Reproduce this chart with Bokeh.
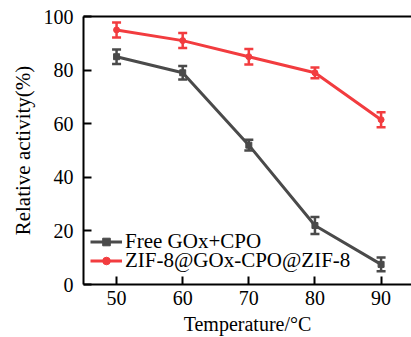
from bokeh.plotting import figure
from bokeh.models import (ColumnDataSource, Whisker, TeeHead, Legend, LegendItem,
                          LinearAxis, FixedTicker, Range1d)
from bokeh.embed import file_html
from bokeh.resources import INLINE

temps = [50, 60, 70, 80, 90]
free_vals = [85, 79, 52, 22, 7.5]
free_err = [2.7, 2.5, 2.0, 3.2, 2.6]
zif_vals = [95, 91, 85, 79, 61.5]
zif_err = [2.8, 2.8, 2.9, 2.0, 2.8]
x_ticks = [50, 60, 70, 80, 90]
y_ticks = [0, 20, 40, 60, 80, 100]
labels = ["Free GOx+CPO", "ZIF-8@GOx-CPO@ZIF-8"]
x_title = "Temperature/°C"
y_title = "Relative activity(%)"

GRAY = "#4a4a4a"
RED = "#f23c3f"
FONT = "Liberation Serif"

p = figure(width=411, height=337, output_backend="svg", toolbar_location=None,
           x_range=Range1d(45, 94.6), y_range=Range1d(0, 100),
           min_border_left=83, min_border_right=0, min_border_top=16, min_border_bottom=53)
p.outline_line_color = None
p.grid.visible = False
p.background_fill_color = "white"
p.border_fill_color = "white"

def src(vals, err):
    return ColumnDataSource(dict(x=temps, y=vals,
                                 lo=[v - e for v, e in zip(vals, err)],
                                 hi=[v + e for v, e in zip(vals, err)]))

s_free = src(free_vals, free_err)
s_zif = src(zif_vals, zif_err)

series = [(s_free, GRAY, "square", labels[0], 30), (s_zif, RED, "circle", labels[1], 11)]
for s, col, mk, lab, ly in series:
    w = Whisker(source=s, base="x", lower="lo", upper="hi", line_color=col, line_width=2.5,
                upper_head=TeeHead(size=9, line_color=col, line_width=2.5),
                lower_head=TeeHead(size=9, line_color=col, line_width=2.5))
    p.add_layout(w)
    l = p.line("x", "y", source=s, line_color=col, line_width=3)
    m = p.scatter("x", "y", source=s, marker=mk, size=6, fill_color=col, line_color=col)
    leg = Legend(items=[LegendItem(label=lab, renderers=[l, m])], location=(7, ly),
                 background_fill_alpha=0, border_line_color=None,
                 label_text_font=FONT, label_text_font_size="21px", label_text_color="black",
                 glyph_width=32, glyph_height=19, label_height=19, spacing=0, padding=0,
                 margin=0, label_standoff=3)
    p.add_layout(leg, "center")

for ax in (p.xaxis[0], p.yaxis[0]):
    ax.axis_line_width = 2
    ax.axis_line_color = "black"
    ax.major_tick_line_width = 2
    ax.major_tick_in = 8
    ax.major_tick_out = 0
    ax.minor_tick_line_color = None
    ax.major_label_text_font = FONT
    ax.major_label_text_font_size = "20px"
    ax.major_label_text_color = "black"
    ax.axis_label_text_font = FONT
    ax.axis_label_text_font_size = "21px"
    ax.axis_label_text_font_style = "normal"
    ax.axis_label_text_color = "black"

p.xaxis[0].ticker = FixedTicker(ticks=x_ticks)
p.yaxis[0].ticker = FixedTicker(ticks=y_ticks)
p.xaxis[0].axis_label = x_title
p.xaxis[0].axis_label_text_font_size = "20px"
p.yaxis[0].axis_label = y_title
p.xaxis[0].major_label_standoff = 6
p.xaxis[0].axis_label_standoff = 5
p.yaxis[0].major_label_standoff = 10
p.yaxis[0].axis_label_standoff = 6

top = LinearAxis(ticker=FixedTicker(ticks=[]), major_label_text_font_size="0px",
                 axis_line_width=2, axis_line_color="black", major_tick_line_color=None,
                 minor_tick_line_color=None)
p.add_layout(top, "above")

open("out.html", "w").write(file_html(p, INLINE))
